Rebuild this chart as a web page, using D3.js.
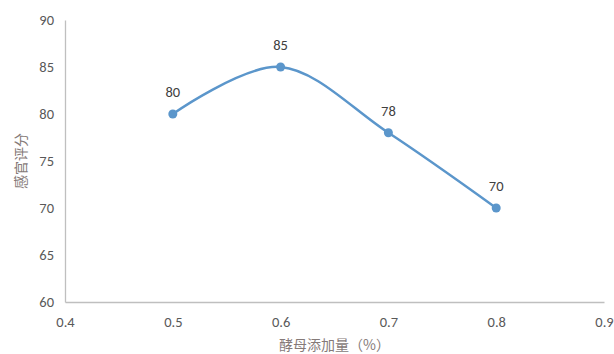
<!DOCTYPE html>
<html>
<head>
<meta charset="utf-8">
<script src="https://cdn.jsdelivr.net/npm/d3@7/dist/d3.min.js"></script>
<style>
  html, body { margin: 0; padding: 0; background: #fff; }
  svg { display: block; }
</style>
</head>
<body>
<svg id="chart" width="614" height="354"></svg>
<script>
// Yeast dosage vs. sensory score
const dosage = [0.5, 0.6, 0.7, 0.8];
const score = [80, 85, 78, 70];
const xTicks = [0.4, 0.5, 0.6, 0.7, 0.8, 0.9];
const yTicks = [60, 65, 70, 75, 80, 85, 90];
const xTitle = "酵母添加量（%）";
const yTitle = "感官评分";

const svg = d3.select("#chart");
const plotLeft = 65, plotRight = 604, plotTop = 20, plotBottom = 302;

const x = d3.scaleLinear().domain([0.4, 0.9]).range([plotLeft, plotRight]);
const y = d3.scaleLinear().domain([60, 90]).range([plotBottom, plotTop]);

const tickFont = "Calibri, Carlito, 'Liberation Sans', 'DejaVu Sans', sans-serif";
const labelColor = "#595959";
const axisColor = "#bfbfbf";

// x axis
const xAxis = svg.append("g")
  .attr("transform", `translate(0,${plotBottom})`)
  .call(d3.axisBottom(x).tickValues(xTicks).tickSize(0).tickPadding(15).tickFormat(d3.format(".1f")));
xAxis.select(".domain").attr("stroke", axisColor).attr("stroke-width", 1.3);
xAxis.selectAll("text").attr("fill", labelColor).style("font-size", "14.5px").style("font-family", tickFont);

// y axis
const yAxis = svg.append("g")
  .attr("transform", `translate(${plotLeft},0)`)
  .call(d3.axisLeft(y).tickValues(yTicks).tickSize(0).tickPadding(11));
yAxis.select(".domain").attr("stroke", axisColor).attr("stroke-width", 1.3);
yAxis.selectAll("text").attr("fill", labelColor).style("font-size", "14.5px").style("font-family", tickFont);

// axis titles
svg.append("text")
  .attr("x", (plotLeft + plotRight) / 2)
  .attr("y", 350)
  .attr("text-anchor", "middle")
  .attr("fill", "#857a78")
  .style("font-size", "14px")
  .style("font-family", "'Noto Sans CJK SC', sans-serif")
  .text(xTitle);

svg.append("text")
  .attr("transform", `translate(26,${(plotTop + plotBottom) / 2}) rotate(-90)`)
  .attr("text-anchor", "middle")
  .attr("fill", "#857a78")
  .style("font-size", "14px")
  .style("font-family", "'Noto Sans CJK SC', sans-serif")
  .text(yTitle);

// smoothed series line
const data = dosage.map((d, i) => ({ x: d, y: score[i] }));
const line = d3.line()
  .x(d => x(d.x))
  .y(d => y(d.y))
  .curve(d3.curveCatmullRom.alpha(0));

svg.append("path")
  .datum(data)
  .attr("d", line)
  .attr("fill", "none")
  .attr("stroke", "#5b96cb")
  .attr("stroke-width", 2.5);

svg.selectAll("circle.pt")
  .data(data)
  .enter().append("circle")
  .attr("class", "pt")
  .attr("cx", d => x(d.x))
  .attr("cy", d => y(d.y))
  .attr("r", 4.5)
  .attr("fill", "#5b96cb");

// value labels
svg.selectAll("text.val")
  .data(data)
  .enter().append("text")
  .attr("class", "val")
  .attr("x", d => x(d.x))
  .attr("y", d => y(d.y) - 17)
  .attr("text-anchor", "middle")
  .attr("fill", "#404040")
  .style("font-size", "14.5px")
  .style("font-family", tickFont)
  .text(d => d.y);
</script>
</body>
</html>
